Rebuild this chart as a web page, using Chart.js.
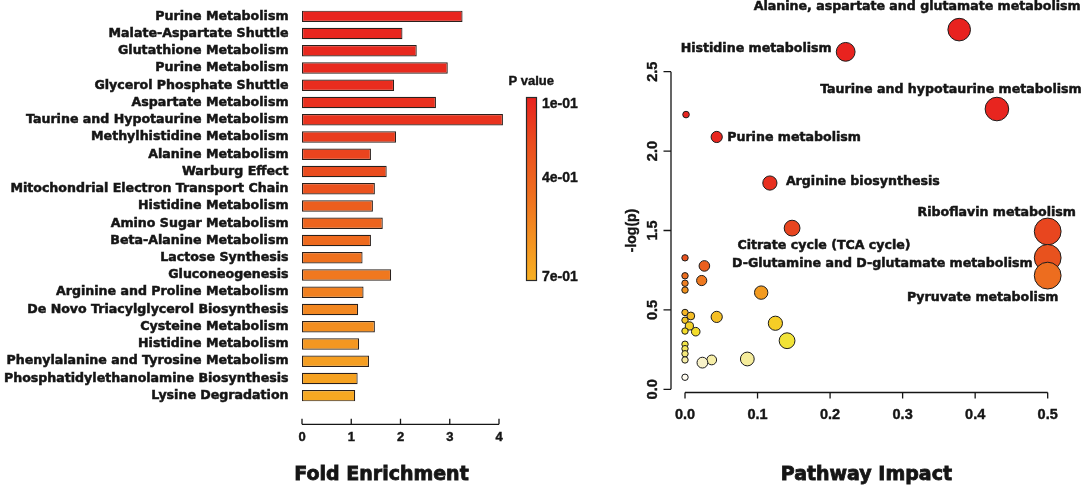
<!DOCTYPE html>
<html>
<head>
<meta charset="utf-8">
<title>Enrichment and pathway impact</title>
<script src="https://cdn.jsdelivr.net/npm/chart.js@4.4.1/dist/chart.umd.min.js"></script>
<style>
    html, body { margin: 0; padding: 0; background: #ffffff; }
    #wrap { position: relative; width: 1084px; height: 487px; overflow: hidden; }
    #enrich { position: absolute; left: 0; top: 0; }
    #impact { position: absolute; left: 590px; top: 0; }
</style>
</head>
<body>
<div id="wrap">
    <canvas id="enrich" width="590" height="487"></canvas>
    <canvas id="impact" width="494" height="487"></canvas>
</div>
<script>
// ---- left panel: fold enrichment ----
const enrichNames = [
    'Purine Metabolism', 'Malate-Aspartate Shuttle', 'Glutathione Metabolism',
    'Purine Metabolism', 'Glycerol Phosphate Shuttle', 'Aspartate Metabolism',
    'Taurine and Hypotaurine Metabolism', 'Methylhistidine Metabolism', 'Alanine Metabolism',
    'Warburg Effect', 'Mitochondrial Electron Transport Chain', 'Histidine Metabolism',
    'Amino Sugar Metabolism', 'Beta-Alanine Metabolism', 'Lactose Synthesis',
    'Gluconeogenesis', 'Arginine and Proline Metabolism', 'De Novo Triacylglycerol Biosynthesis',
    'Cysteine Metabolism', 'Histidine Metabolism', 'Phenylalanine and Tyrosine Metabolism',
    'Phosphatidylethanolamine Biosynthesis', 'Lysine Degradation'
];
const foldEnrichment = [3.26, 2.04, 2.33, 2.96, 1.87, 2.72, 4.08, 1.91, 1.40, 1.72, 1.48, 1.44,
    1.64, 1.40, 1.23, 1.81, 1.25, 1.14, 1.48, 1.16, 1.36, 1.13, 1.08];
const enrichP = [0.11, 0.115, 0.12, 0.13, 0.14, 0.15, 0.16, 0.195, 0.22, 0.25, 0.28, 0.34,
    0.37, 0.40, 0.43, 0.46, 0.49, 0.52, 0.55, 0.59, 0.62, 0.64, 0.665];
const foldTicks = [0, 1, 2, 3, 4];
const pLegendLabels = ['1e-01', '4e-01', '7e-01'];

// ---- right panel: pathway impact vs -log(p) ----
const impactNames = [
    'Alanine, aspartate and glutamate metabolism', 'Histidine metabolism',
    'Taurine and hypotaurine metabolism', '', 'Purine metabolism', 'Arginine biosynthesis',
    'Citrate cycle (TCA cycle)', 'Riboflavin metabolism', 'D-Glutamine and D-glutamate metabolism',
    '', '', 'Pyruvate metabolism', '', '', '', '', '', '', '', '', '', '', '', '', '', '', '', '',
    '', '', '', '', '', ''
];
const impactX = [0.378, 0.2215, 0.430, 0.0014, 0.0437, 0.117, 0.1476, 0.5, 0.5, 0, 0.0267, 0.5,
    0, 0.023, 0, 0, 0.105, 0, 0.008, 0.0437, 0, 0.1246, 0.006, 0, 0.0148, 0.1407, 0, 0, 0,
    0.0859, 0, 0.0368, 0.024, 0];
const impactY = [2.265, 2.125, 1.765, 1.730, 1.589, 1.299, 1.015, 0.994, 0.828, 0.828, 0.777, 0.716,
    0.715, 0.685, 0.668, 0.625, 0.609, 0.484, 0.462, 0.456, 0.435, 0.416, 0.399, 0.367, 0.363,
    0.306, 0.284, 0.256, 0.224, 0.191, 0.185, 0.185, 0.168, 0.076];
const impactR = [11.3, 9.4, 11.8, 3.3, 5.6, 7.1, 7.9, 13.4, 13.4, 3.2, 5.3, 13.4,
    3.2, 5.1, 3.2, 3.2, 6.7, 3.2, 3.9, 5.6, 3.2, 7.1, 4.1, 3.2, 4.3, 7.9, 3.2, 3.2, 3.2,
    6.9, 3.2, 4.9, 5.4, 3.2];
const impactTicks = [0, 0.1, 0.2, 0.3, 0.4, 0.5];
const impactTickLabels = ['0.0', '0.1', '0.2', '0.3', '0.4', '0.5'];
const logpTicks = [0, 0.5, 1.0, 1.5, 2.0];
const logpTickLabels = ['0.0', '0.5', '1.5', '2.0', '2.5'];

// ---- colour helpers ----
const barStops = [[0, '#e8221e'], [0.25, '#ea4c1e'], [0.5, '#ee6a1e'], [0.75, '#f38e20'], [1, '#f8b022']];
const heatStops = [[0.07, '#fffdf4'], [0.17, '#f8f2c8'], [0.19, '#f5ec9c'], [0.25, '#f3e660'],
    [0.30, '#f1e43a'], [0.37, '#f4dc28'], [0.42, '#f5cc26'], [0.48, '#f5b624'], [0.61, '#f29a1f'],
    [0.67, '#ef7e20'], [0.72, '#ed6c1f'], [0.83, '#e8521e'], [1.0, '#e8461f'], [1.3, '#e8301f'],
    [1.6, '#e8261f'], [2.3, '#e8221f']];

function hexRgb(h) {
    const n = parseInt(h.slice(1), 16);
    return [(n >> 16) & 255, (n >> 8) & 255, n & 255];
}

function ramp(stops, t) {
    if (t <= stops[0][0]) return stops[0][1];
    for (let i = 1; i < stops.length; i++) {
        if (t <= stops[i][0]) {
            const f = (t - stops[i - 1][0]) / (stops[i][0] - stops[i - 1][0]);
            const a = hexRgb(stops[i - 1][1]), b = hexRgb(stops[i][1]);
            const c = a.map((v, k) => Math.round(v + (b[k] - v) * f));
            return 'rgb(' + c.join(',') + ')';
        }
    }
    return stops[stops.length - 1][1];
}

function pColor(p) {
    return ramp(barStops, (p - 0.1) / 0.6);
}

const ink = '#151515';

// heavy text: fill plus a thin outline
function heavyText(ctx, text, x, y, w) {
    ctx.lineWidth = w;
    ctx.strokeStyle = ctx.fillStyle;
    ctx.strokeText(text, x, y);
    ctx.fillText(text, x, y);
}

// axis line, colour bar and title for the enrichment panel
const enrichDecor = {
    id: 'enrichDecor',
    afterDraw(chart) {
        const ctx = chart.ctx, area = chart.chartArea, xs = chart.scales.x;
        const y0 = area.bottom + 20;
        ctx.save();
        ctx.strokeStyle = ink;
        ctx.lineWidth = 1.3;
        ctx.beginPath();
        ctx.moveTo(xs.getPixelForValue(foldTicks[0]), y0);
        ctx.lineTo(xs.getPixelForValue(foldTicks[foldTicks.length - 1]), y0);
        foldTicks.forEach(v => {
            const px = xs.getPixelForValue(v);
            ctx.moveTo(px, y0);
            ctx.lineTo(px, y0 - 5.5);
        });
        ctx.stroke();

        ctx.fillStyle = ink;
        ctx.font = 'bold 19px "DejaVu Sans"';
        ctx.textAlign = 'center';
        ctx.textBaseline = 'alphabetic';
        heavyText(ctx, 'Fold Enrichment', area.left + 79.5, 480, 0.8);

        // p value colour bar
        const bx = area.right + 27, by = 97, bw = 11, bh = 184;
        const g = ctx.createLinearGradient(0, by, 0, by + bh);
        barStops.forEach(s => g.addColorStop(s[0], s[1]));
        ctx.fillStyle = g;
        ctx.fillRect(bx, by, bw, bh);
        ctx.strokeStyle = '#2a2a2a';
        ctx.lineWidth = 1.2;
        ctx.strokeRect(bx + 0.5, by + 0.5, bw - 1, bh - 1);

        ctx.fillStyle = ink;
        ctx.textAlign = 'left';
        ctx.textBaseline = 'middle';
        ctx.font = 'bold 13px "Liberation Sans"';
        heavyText(ctx, 'P value', bx - 17.5, 81, 0.4);
        ctx.font = 'bold 14px "Liberation Sans"';
        const fr = [0.04, 0.44, 0.98];
        pLegendLabels.forEach((t, i) => heavyText(ctx, t, bx + 16, by + fr[i] * bh, 0.4));
        ctx.restore();
    }
};

// label placement for the annotated pathways (pixel offsets from the bubble centre)
const labelPlace = {
    'Alanine, aspartate and glutamate metabolism': ['center', -42, -23],
    'Histidine metabolism': ['right', -14, -3],
    'Taurine and hypotaurine metabolism': ['center', -46, -19],
    'Purine metabolism': ['left', 10.5, 0.5],
    'Arginine biosynthesis': ['left', 16, -1.5],
    'Citrate cycle (TCA cycle)': ['center', 32, 18],
    'Riboflavin metabolism': ['center', -51, -19],
    'D-Glutamine and D-glutamate metabolism': ['right', -15, 6],
    'Pyruvate metabolism': ['center', -65, 22.6]
};

const impactDecor = {
    id: 'impactDecor',
    afterDatasetsDraw(chart) {
        const ctx = chart.ctx, meta = chart.getDatasetMeta(0);
        ctx.save();
        ctx.fillStyle = ink;
        ctx.font = 'bold 12.6px "DejaVu Sans"';
        ctx.textBaseline = 'middle';
        impactNames.forEach((name, i) => {
            if (!name) return;
            const pt = meta.data[i], pl = labelPlace[name];
            ctx.textAlign = pl[0];
            heavyText(ctx, name, pt.x + pl[1], pt.y + pl[2], 0.5);
        });
        ctx.restore();
    },
    afterDraw(chart) {
        const ctx = chart.ctx, area = chart.chartArea, xs = chart.scales.x, ys = chart.scales.y;
        const ax = area.left + 0.5, ay = area.bottom;
        ctx.save();
        ctx.strokeStyle = ink;
        ctx.lineWidth = 1.3;
        ctx.beginPath();
        ctx.moveTo(ax, ys.getPixelForValue(logpTicks[0]));
        ctx.lineTo(ax, ys.getPixelForValue(logpTicks[logpTicks.length - 1]));
        logpTicks.forEach(v => {
            const py = ys.getPixelForValue(v);
            ctx.moveTo(ax, py);
            ctx.lineTo(ax - 7.5, py);
        });
        ctx.moveTo(xs.getPixelForValue(impactTicks[0]), ay);
        ctx.lineTo(xs.getPixelForValue(impactTicks[impactTicks.length - 1]), ay);
        impactTicks.forEach(v => {
            const px = xs.getPixelForValue(v);
            ctx.moveTo(px, ay);
            ctx.lineTo(px, ay + 6);
        });
        ctx.stroke();

        ctx.fillStyle = ink;
        ctx.textAlign = 'center';
        ctx.font = 'bold 19px "DejaVu Sans"';
        ctx.textBaseline = 'alphabetic';
        heavyText(ctx, 'Pathway Impact', (area.left + area.right) / 2, 480, 0.8);

        // rotated y tick labels, read bottom to top
        ctx.font = 'bold 14.5px "Liberation Sans"';
        ctx.textBaseline = 'middle';
        logpTicks.forEach((v, i) => {
            ctx.save();
            ctx.translate(area.left - 17.5, ys.getPixelForValue(v));
            ctx.rotate(-Math.PI / 2);
            heavyText(ctx, logpTickLabels[i], 0, 0, 0.4);
            ctx.restore();
        });

        ctx.translate(42, (ys.getPixelForValue(logpTicks[0]) + ys.getPixelForValue(logpTicks[logpTicks.length - 1])) / 2);
        ctx.rotate(-Math.PI / 2);
        ctx.font = 'bold 14px "Liberation Sans"';
        heavyText(ctx, '-log(p)', 0, 0, 0.4);
        ctx.restore();
    }
};

const boldTick = (size, family) => ({ family: family || 'Liberation Sans', weight: 'bold', size: size });

// keep the tick label overflow from shrinking the plot area
function fixWidth(w) {
    return s => { s.width = w; s.paddingTop = 0; s.paddingBottom = 0; };
}

function fixHeight(h) {
    return s => { s.height = h; s.paddingLeft = 0; s.paddingRight = 0; };
}

new Chart(document.getElementById('enrich'), {
    type: 'bar',
    data: {
        labels: enrichNames,
        datasets: [{
            data: foldEnrichment,
            backgroundColor: enrichP.map(pColor),
            borderColor: '#2a201c',
            borderWidth: 1.2,
            borderSkipped: false,
            barPercentage: 0.66,
            categoryPercentage: 1,
            clip: false
        }]
    },
    options: {
        indexAxis: 'y',
        responsive: false,
        animation: false,
        layout: { padding: { top: 7.7, right: 91, bottom: 0, left: 0 } },
        plugins: { legend: { display: false }, tooltip: { enabled: false } },
        scales: {
            x: {
                type: 'linear', min: 0, max: 4,
                grid: { display: false, drawTicks: false },
                border: { display: false },
                afterBuildTicks: s => { s.ticks = foldTicks.map(v => ({ value: v })); },
                afterFit: fixHeight(82.7),
                ticks: { padding: 25, color: ink, font: boldTick(13), textStrokeColor: ink, textStrokeWidth: 0.4 }
            },
            y: {
                grid: { display: false, drawTicks: false },
                border: { display: false },
                afterFit: fixWidth(302),
                ticks: {
                    autoSkip: false, padding: 13.5, color: ink, font: boldTick(12.6, 'DejaVu Sans'),
                    textStrokeColor: ink, textStrokeWidth: 0.5
                }
            }
        }
    },
    plugins: [enrichDecor]
});

new Chart(document.getElementById('impact'), {
    type: 'bubble',
    data: {
        datasets: [{
            data: impactX.map((x, i) => ({ x: x, y: impactY[i], r: impactR[i] })),
            backgroundColor: impactY.map(v => ramp(heatStops, v)),
            borderColor: '#1c1c1c',
            borderWidth: 1,
            clip: false
        }]
    },
    options: {
        responsive: false,
        animation: false,
        layout: { autoPadding: false, padding: { top: 5, right: 21.8, bottom: 0, left: 0 } },
        plugins: { legend: { display: false }, tooltip: { enabled: false } },
        scales: {
            x: {
                type: 'linear', min: -0.02, max: 0.52,
                grid: { display: false, drawTicks: false },
                border: { display: false },
                afterBuildTicks: s => { s.ticks = impactTicks.map(v => ({ value: v })); },
                afterFit: fixHeight(94.5),
                ticks: {
                    padding: 13.5, color: ink, font: boldTick(14.5),
                    textStrokeColor: ink, textStrokeWidth: 0.4,
                    callback: (v, i) => impactTickLabels[i]
                }
            },
            y: {
                type: 'linear', min: -0.02, max: 2.42,
                grid: { display: false, drawTicks: false },
                border: { display: false },
                afterBuildTicks: s => { s.ticks = logpTicks.map(v => ({ value: v })); },
                afterFit: fixWidth(80.5),
                ticks: { display: false }
            }
        }
    },
    plugins: [impactDecor]
});
</script>
</body>
</html>
